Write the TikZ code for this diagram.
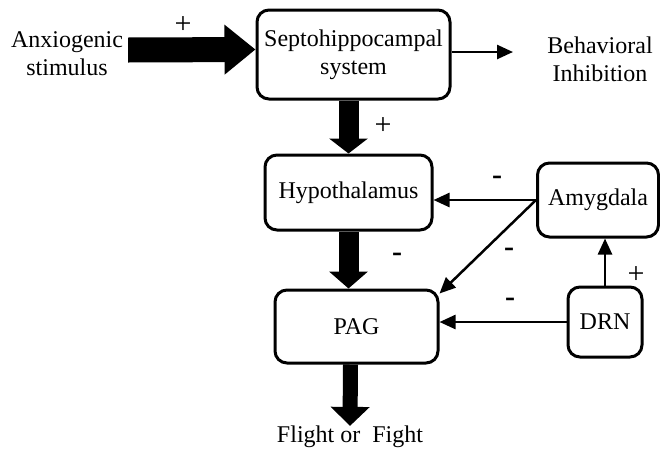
\documentclass[tikz,border=0pt]{standalone}
\usepackage{fontspec}
\setmainfont{Liberation Serif}
\usetikzlibrary{arrows.meta}
\usetikzlibrary{positioning}

\begin{document}
\begin{tikzpicture}[x=1pt,y=-1pt,
    font=\fontsize{24}{28}\selectfont,
    kasten/.style={draw, line width=3pt, rounded corners=12pt, inner sep=0pt, align=center},
    dick/.style={line width=20pt, -{Triangle[length=17pt,width=38pt]}},
    duenn/.style={line width=2.5pt, -{Triangle[length=16pt,width=14pt]}},
    zeichen/.style={font=\fontsize{30}{30}\selectfont, inner sep=0pt}]

    \useasboundingbox (0,0) rectangle (660,453);

    % Kaesten
    \node[kasten, minimum width=193pt, minimum height=89pt] (septo) at (353.5,54.5) {Septohippocampal\\system};
    \node[kasten, minimum width=167pt, minimum height=75pt] (hypo) at (348.5,192.5) {Hypothalamus};
    \node[kasten, minimum width=163pt, minimum height=73pt] (pag) at (356.5,326.5) {PAG};
    \node[kasten, minimum width=121pt, minimum height=74pt] (amyg) at (598,200) {Amygdala};
    \node[kasten, minimum width=74pt, minimum height=70pt] (drn) at (605,322) {DRN};

    % freie Texte
    \node[align=center, inner sep=0pt] (stim) at (67,54) {Anxiogenic\\stimulus};
    \node[align=center, inner sep=0pt] (behav) at (600,59) {Behavioral\\Inhibition};
    \node[inner sep=0pt] (flight) at (350,437) {Flight or\ \ Fight};
    \coordinate (bi) at (513,52);

    % dicke Pfeile
    \draw[dick, line width=25pt, -{Triangle[length=31pt,width=48pt]}]
        ([xshift=5pt,yshift=4pt]stim.east) -- ([yshift=5pt]septo.west);
    \draw[dick, -{Triangle[length=15pt,width=38pt]}] (hypo.north |- septo.south) -- (hypo.north);
    \draw[dick] (hypo.south) -- (hypo.south |- pag.north);
    \draw[dick, line width=15pt, -{Triangle[length=19pt,width=38pt]}] ([xshift=-6pt]pag.south) -- (flight.north);

    % duenne Pfeile
    \draw[duenn] ([yshift=2.5pt]septo.east) -- (bi);
    \draw[duenn] (amyg.west) -- (amyg.west -| hypo.east);
    \draw[duenn] (amyg.west) -- ([yshift=-5pt]pag.north east);
    \draw[duenn] (drn.west) -- (drn.west -| pag.east);
    \draw[duenn] (drn.north) -- (drn.north |- amyg.south);

    % Vorzeichen
    \node[zeichen] (p1) at (183,25) {+};
    \node[zeichen] (p2) at (383,126) {+};
    \node[zeichen] (p3) at (636,275) {+};
    \node[zeichen] (m1) at (497,180) {\textbf{-}};
    \node[zeichen] (m2) at (397,257) {\textbf{-}};
    \node[zeichen] (m3) at (509,252) {\textbf{-}};
    \node[zeichen] (m4) at (510,302) {\textbf{-}};
\end{tikzpicture}
\end{document}
